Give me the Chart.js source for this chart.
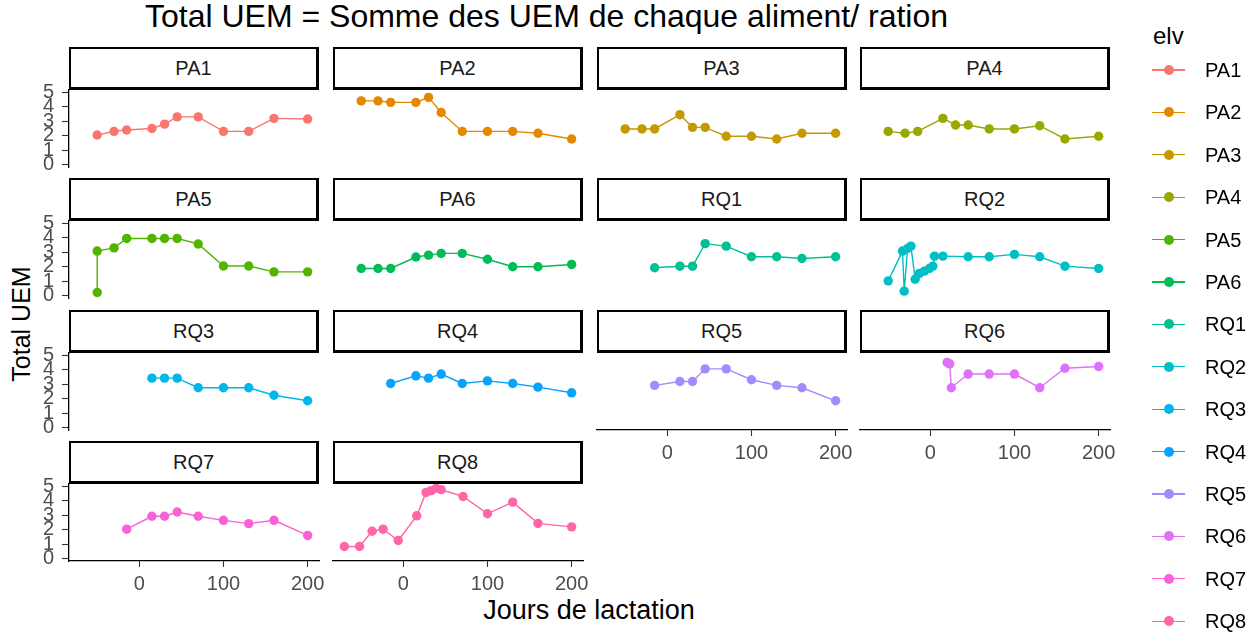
<!DOCTYPE html>
<html>
<head>
<meta charset="utf-8">
<script src="https://cdn.jsdelivr.net/npm/chart.js@4/dist/chart.umd.min.js"></script>
<style>
  body { margin: 0; background: #fff; width: 1258px; height: 637px; overflow: hidden; position: relative;
         font-family: "Liberation Sans", Arial, sans-serif; }
  canvas { position: absolute; }
  .strip { position: absolute; box-sizing: border-box; background: #fff; border: 2px solid #000;
           border-right-width: 3px; border-bottom-width: 3px; color: #1a1a1a; font-size: 20px;
           text-align: center; }
  .txt { position: absolute; white-space: nowrap; line-height: 1; }
  .key { position: absolute; width: 33px; height: 1.4px; }
  .dot { position: absolute; width: 10px; height: 10px; border-radius: 50%; }
</style>
</head>
<body>
<div class="txt" style="left:145px;top:0px;font-size:32px;color:#000">Total UEM = Somme des UEM de chaque aliment/ ration</div>
<div class="txt" style="left:589px;top:597px;font-size:27px;color:#000;transform:translateX(-50%)">Jours de lactation</div>
<div class="txt" style="left:21px;top:324px;font-size:25px;color:#000;transform:translate(-50%,-50%) rotate(-90deg)">Total UEM</div>
<div class="txt" style="left:1153px;top:24px;font-size:24px;color:#000">elv</div>
<script>
// facets / legend levels
const elvNames = ['PA1', 'PA2', 'PA3', 'PA4', 'PA5', 'PA6', 'RQ1', 'RQ2', 'RQ3', 'RQ4', 'RQ5', 'RQ6', 'RQ7', 'RQ8'];
const elvColors = ['#F8766D', '#E38900', '#C49A00', '#99A800', '#53B400', '#00BC56', '#00C094',
                   '#00BFC4', '#00B6EB', '#06A4FF', '#A58AFF', '#DF70F8', '#FB61D7', '#FF66A8'];

// jours de lactation / total UEM par élevage
const PA1_jours = [-50, -30, -15, 15, 30, 45, 70, 100, 130, 160, 200];
const PA1_uem = [2.05, 2.3, 2.4, 2.5, 2.8, 3.3, 3.3, 2.3, 2.3, 3.2, 3.15];
const PA2_jours = [-50, -30, -15, 15, 30, 45, 70, 100, 130, 160, 200];
const PA2_uem = [4.4, 4.4, 4.3, 4.3, 4.64, 3.6, 2.3, 2.3, 2.3, 2.17, 1.78];
const PA3_jours = [-50, -30, -15, 15, 30, 45, 70, 100, 130, 160, 200];
const PA3_uem = [2.47, 2.47, 2.47, 3.45, 2.58, 2.58, 1.97, 1.97, 1.78, 2.17, 2.17];
const PA4_jours = [-50, -30, -15, 15, 30, 45, 70, 100, 130, 160, 200];
const PA4_uem = [2.3, 2.17, 2.3, 3.2, 2.74, 2.74, 2.47, 2.47, 2.69, 1.78, 1.97];
const PA5_jours = [-50, -50, -30, -15, 15, 30, 45, 70, 100, 130, 160, 200];
const PA5_uem = [0.23, 3.08, 3.3, 3.95, 3.95, 3.95, 3.95, 3.57, 2.05, 2.05, 1.65, 1.65];
const PA6_jours = [-50, -30, -15, 15, 30, 45, 70, 100, 130, 160, 200];
const PA6_uem = [1.88, 1.88, 1.88, 2.67, 2.8, 2.92, 2.92, 2.52, 2.0, 2.0, 2.16];
const RQ1_jours = [-15, 15, 30, 45, 70, 100, 130, 160, 200];
const RQ1_uem = [1.93, 2.04, 2.04, 3.59, 3.42, 2.69, 2.69, 2.57, 2.69];
const RQ2_jours = [-50, -33, -31, -27, -23, -18, -13, -7, -1, 3, 5, 15, 45, 70, 100, 130, 160, 200];
const RQ2_uem = [1.03, 3.08, 0.32, 3.26, 3.42, 1.14, 1.54, 1.7, 1.88, 2.04, 2.73, 2.73, 2.69, 2.69, 2.85, 2.69, 2.04, 1.88];
const RQ3_jours = [15, 30, 45, 70, 100, 130, 160, 200];
const RQ3_uem = [3.42, 3.42, 3.42, 2.76, 2.76, 2.76, 2.24, 1.86];
const RQ4_jours = [-15, 15, 30, 45, 70, 100, 130, 160, 200];
const RQ4_uem = [3.05, 3.58, 3.42, 3.7, 3.05, 3.23, 3.05, 2.8, 2.41];
const RQ5_jours = [-15, 15, 30, 45, 70, 100, 130, 160, 200];
const RQ5_uem = [2.92, 3.19, 3.19, 4.06, 4.06, 3.31, 2.92, 2.76, 1.86];
const RQ6_jours = [20, 23, 25, 45, 70, 100, 130, 160, 200];
const RQ6_uem = [4.5, 4.4, 2.76, 3.7, 3.7, 3.7, 2.76, 4.1, 4.22];
const RQ7_jours = [-15, 15, 30, 45, 70, 100, 130, 160, 200];
const RQ7_uem = [2.04, 2.93, 2.93, 3.22, 2.93, 2.65, 2.42, 2.65, 1.61];
const RQ8_jours = [-70, -52, -37, -24, -6, 16, 27, 33, 39, 45, 71, 100, 130, 160, 200];
const RQ8_uem = [0.85, 0.85, 1.9, 2.04, 1.26, 2.96, 4.57, 4.69, 4.86, 4.76, 4.29, 3.1, 3.9, 2.44, 2.2];

const xTicks = [0, 100, 200];
const yTicks = [0, 1, 2, 3, 4, 5];

const series = {
  PA1: [PA1_jours, PA1_uem], PA2: [PA2_jours, PA2_uem], PA3: [PA3_jours, PA3_uem],
  PA4: [PA4_jours, PA4_uem], PA5: [PA5_jours, PA5_uem], PA6: [PA6_jours, PA6_uem],
  RQ1: [RQ1_jours, RQ1_uem], RQ2: [RQ2_jours, RQ2_uem], RQ3: [RQ3_jours, RQ3_uem],
  RQ4: [RQ4_jours, RQ4_uem], RQ5: [RQ5_jours, RQ5_uem], RQ6: [RQ6_jours, RQ6_uem],
  RQ7: [RQ7_jours, RQ7_uem], RQ8: [RQ8_jours, RQ8_uem],
};

// facet layout
const colLeft = [69, 333, 597, 860];
const rowTop = [47, 178.3, 309.6, 441];
const panelW = 250, stripH = 43, plotH = 77;
const yAxisW = 60, xAxisH = 36, pad = 12;

const FONT = '"Liberation Sans", Arial, sans-serif';

function fixBox(s, size) {
  if (!s.options.display) return;
  if (s.isHorizontal()) s.height = size; else s.width = size;
  s.paddingLeft = 0; s.paddingRight = 0; s.paddingTop = 0; s.paddingBottom = 0;
}

elvNames.forEach((name, i) => {
  const row = Math.floor(i / 4), col = i % 4;
  const showY = col === 0;
  const showX = i >= elvNames.length - 4;
  const plotLeft = colLeft[col], plotTop = rowTop[row] + stripH;

  const cv = document.createElement('canvas');
  const w = panelW + (showY ? yAxisW : 0) + 2 * pad;
  const h = plotH + (showX ? xAxisH : 0) + 2 * pad;
  cv.width = w; cv.height = h;
  cv.style.left = (plotLeft - (showY ? yAxisW : 0) - pad) + 'px';
  cv.style.top = (plotTop - pad) + 'px';
  document.body.appendChild(cv);

  const [jours, uem] = series[name];
  const c = elvColors[i];

  new Chart(cv, {
    type: 'line',
    data: {
      datasets: [{
        data: jours.map((x, k) => ({ x: x, y: uem[k] })),
        borderColor: c,
        backgroundColor: c,
        pointBackgroundColor: c,
        pointBorderWidth: 0,
        pointRadius: 4.7,
        borderWidth: 1.4,
        tension: 0,
        clip: false,
      }],
    },
    options: {
      responsive: false,
      animation: false,
      devicePixelRatio: 1,
      layout: { padding: pad },
      plugins: { legend: { display: false }, tooltip: { enabled: false } },
      scales: {
        x: {
          type: 'linear', min: -83.5, max: 213.5,
          display: showX,
          afterBuildTicks: s => { s.ticks = xTicks.map(v => ({ value: v })) },
          afterFit: s => fixBox(s, xAxisH),
          grid: { drawOnChartArea: false, drawTicks: true, tickLength: 6, tickColor: '#333', tickWidth: 1.1 },
          border: { display: true, color: '#000', width: 1.3 },
          ticks: { color: '#4d4d4d', font: { size: 20, family: FONT }, padding: 5, maxRotation: 0, autoSkip: false },
        },
        y: {
          min: -0.15, max: 5.15,
          display: showY,
          afterBuildTicks: s => { s.ticks = yTicks.map(v => ({ value: v })) },
          afterFit: s => fixBox(s, yAxisW),
          grid: { drawOnChartArea: false, drawTicks: true, tickLength: 7, tickColor: '#333', tickWidth: 1.1 },
          border: { display: true, color: '#000', width: 1.3 },
          ticks: { color: '#4d4d4d', font: { size: 20, family: FONT }, padding: 8, autoSkip: false },
        },
      },
    },
  });

  const st = document.createElement('div');
  st.className = 'strip';
  st.style.left = plotLeft + 'px';
  st.style.top = rowTop[row] + 'px';
  st.style.width = panelW + 'px';
  st.style.height = stripH + 'px';
  st.style.lineHeight = (stripH - 5) + 'px';
  st.textContent = name;
  document.body.appendChild(st);
});

// legend
elvNames.forEach((name, i) => {
  const yc = 70 + 42.4 * i;
  const ln = document.createElement('div');
  ln.className = 'key';
  ln.style.left = '1152px';
  ln.style.top = (yc - 0.7) + 'px';
  ln.style.background = elvColors[i];
  document.body.appendChild(ln);
  const d = document.createElement('div');
  d.className = 'dot';
  d.style.left = '1163.5px';
  d.style.top = (yc - 5) + 'px';
  d.style.background = elvColors[i];
  document.body.appendChild(d);
  const t = document.createElement('div');
  t.className = 'txt';
  t.style.left = '1205px';
  t.style.top = (yc - 10) + 'px';
  t.style.fontSize = '20px';
  t.style.color = '#000';
  t.textContent = name;
  document.body.appendChild(t);
});
</script>
</body>
</html>
